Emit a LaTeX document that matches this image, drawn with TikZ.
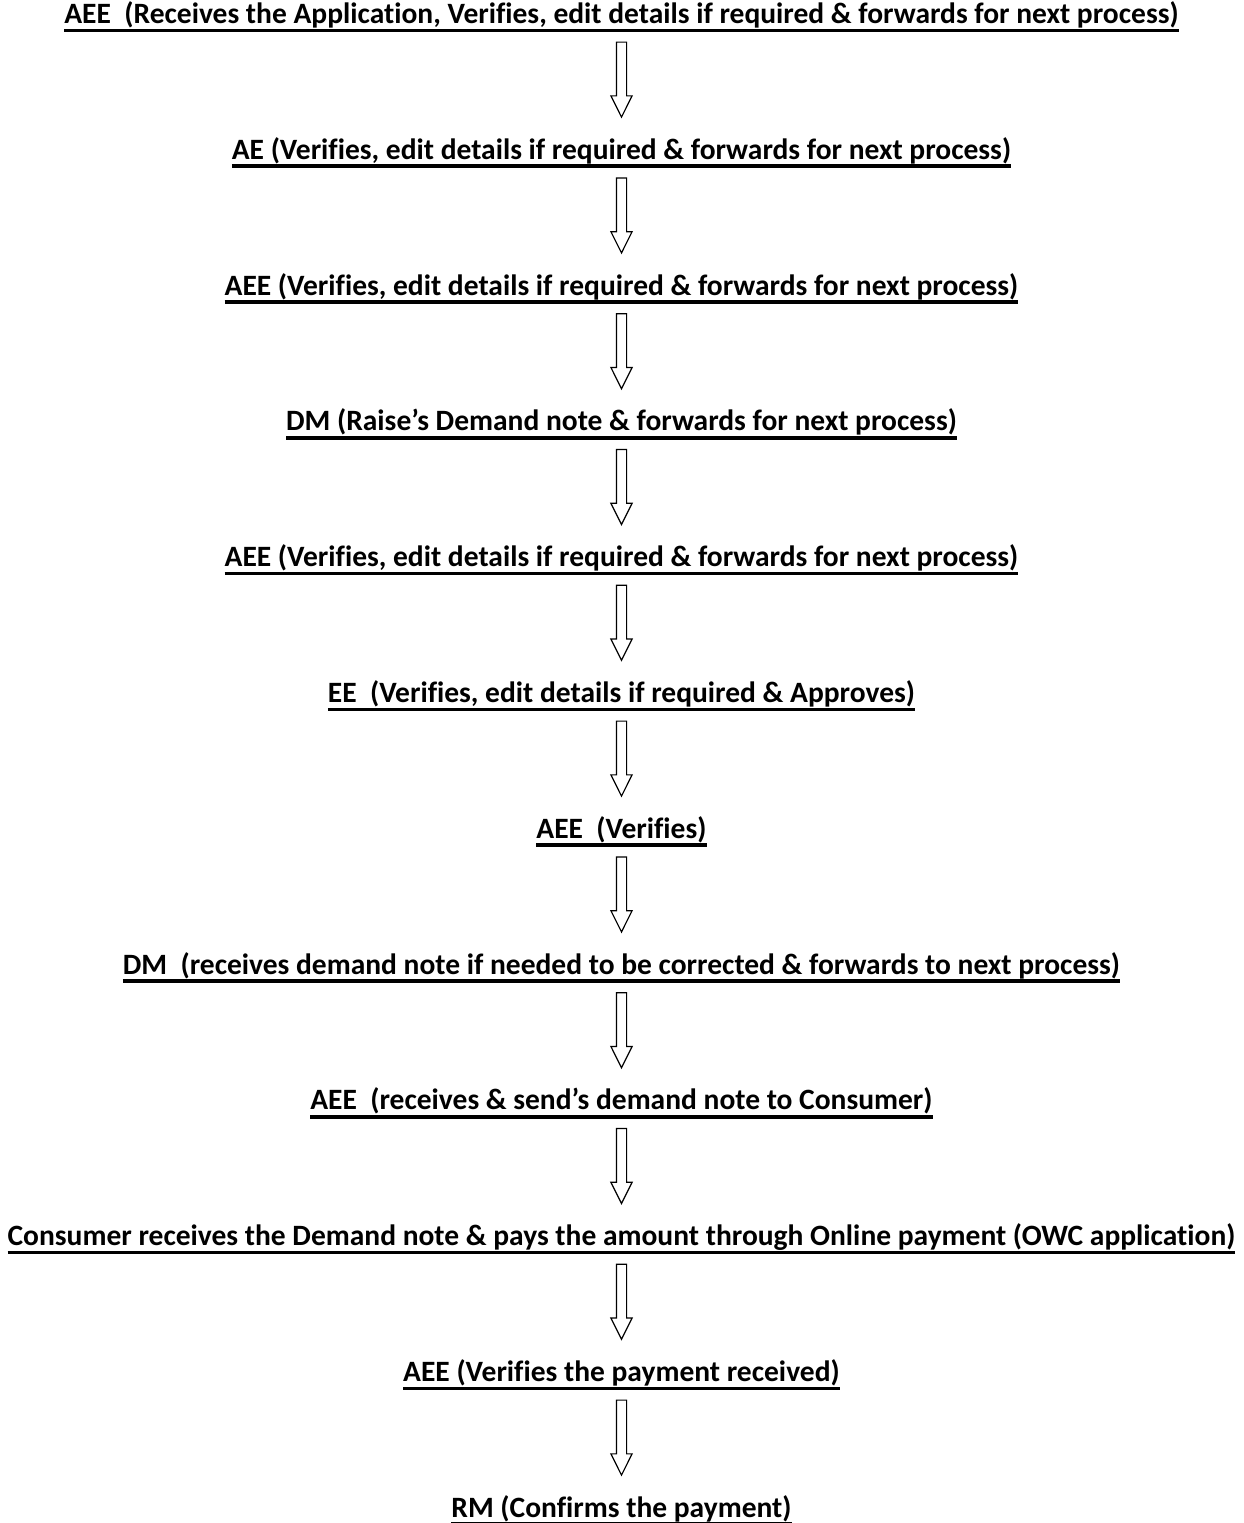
\documentclass[tikz,border=0pt]{standalone}
\usepackage{fontspec}
\setmainfont{Carlito}[Ligatures={NoCommon,NoRequired}]
\usetikzlibrary{positioning,shapes.arrows}
\newcommand{\ultext}[1]{\setbox0\hbox{#1}\rlap{\rule[-4.3pt]{\wd0}{1.8pt}}\box0}

\begin{document}
\begin{tikzpicture}[x=0.5pt,y=-0.5pt]
 \useasboundingbox (0,0) rectangle (1244,1523);
 \begin{scope}[every node/.style={anchor=base, inner sep=0pt, font=\fontsize{14.75}{17}\selectfont\bfseries}]
   \node (aee1) at (621.5,23.5) {\ultext{AEE\ \ (Receives the Application, Verifies, edit details if required \& forwards for next process)}};
   \node (ae) at (621.5,159.3) {\ultext{AE (Verifies, edit details if required \& forwards for next process)}};
   \node (aee2) at (621.5,295.1) {\ultext{AEE (Verifies, edit details if required \& forwards for next process)}};
   \node (dm1) at (621.5,430.9) {\ultext{DM (Raise’s Demand note \& forwards for next process)}};
   \node (aee3) at (621.5,566.7) {\ultext{AEE (Verifies, edit details if required \& forwards for next process)}};
   \node (ee) at (621.5,702.5) {\ultext{EE\ \ (Verifies, edit details if required \& Approves)}};
   \node (aee4) at (621.5,838.3) {\ultext{AEE\ \ (Verifies)}};
   \node (dm2) at (621.5,974.1) {\ultext{DM\ \ (receives demand note if needed to be corrected \& forwards to next process)}};
   \node (aee5) at (621.5,1109.9) {\ultext{AEE\ \ (receives \& send’s demand note to Consumer)}};
   \node (cons) at (621.5,1245.7) {\ultext{Consumer receives the Demand note \& pays the amount through Online payment (OWC application)}};
   \node (aee6) at (621.5,1381.5) {\ultext{AEE (Verifies the payment received)}};
   \node (rm) at (621.5,1517.3) {\ultext{RM (Confirms the payment)}};
 \end{scope}
 \begin{scope}[every node/.style={single arrow, draw, line width=0.6pt, shape border rotate=270,
     minimum height=37.5pt, inner sep=2.25pt, single arrow head extend=2.75pt, single arrow tip angle=53}]
   \node (a1) [below=9pt of aee1.base, anchor=tail] {};
   \node (a2) [below=9pt of ae.base, anchor=tail] {};
   \node (a3) [below=9pt of aee2.base, anchor=tail] {};
   \node (a4) [below=9pt of dm1.base, anchor=tail] {};
   \node (a5) [below=9pt of aee3.base, anchor=tail] {};
   \node (a6) [below=9pt of ee.base, anchor=tail] {};
   \node (a7) [below=9pt of aee4.base, anchor=tail] {};
   \node (a8) [below=9pt of dm2.base, anchor=tail] {};
   \node (a9) [below=9pt of aee5.base, anchor=tail] {};
   \node (a10) [below=9pt of cons.base, anchor=tail] {};
   \node (a11) [below=9pt of aee6.base, anchor=tail] {};
 \end{scope}
\end{tikzpicture}
\end{document}
